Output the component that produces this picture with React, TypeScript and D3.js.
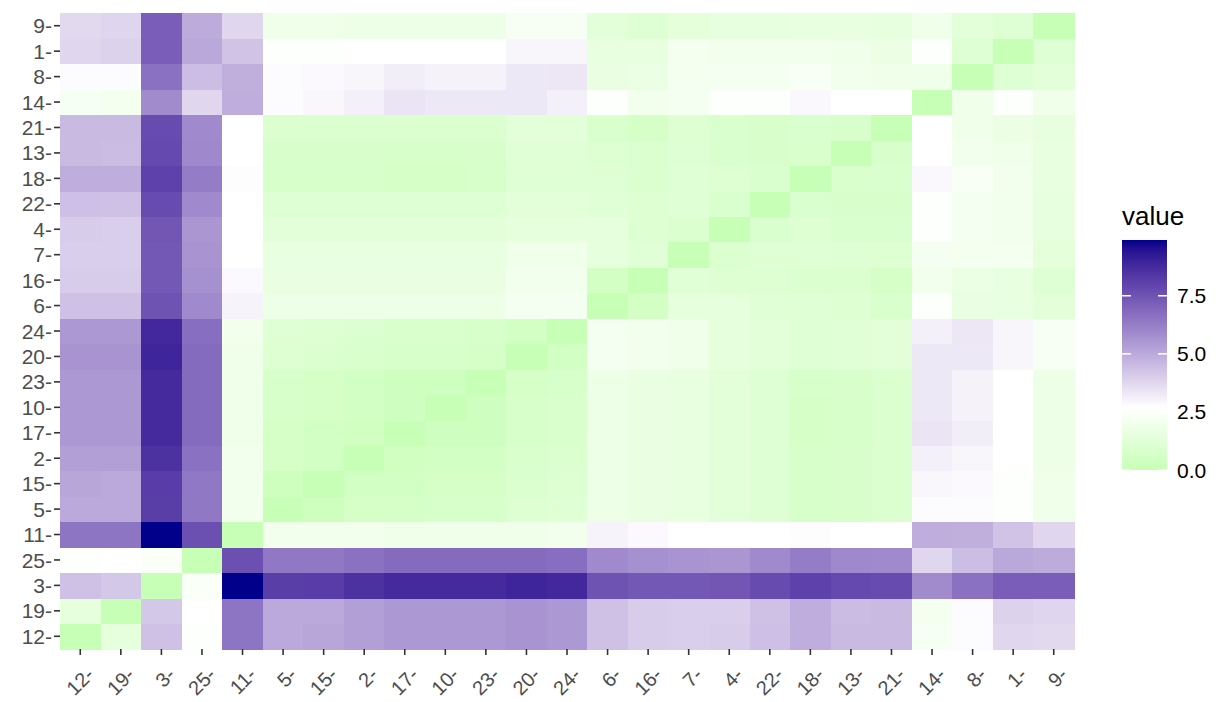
import React from 'react';
import * as d3 from 'd3';

// axis categories, same order on x (left -> right) and y (bottom -> top)
const labels = ['12', '19', '3', '25', '11', '5', '15', '2', '17', '10', '23', '20', '24', '6', '16', '7', '4', '22', '18', '13', '21', '14', '8', '1', '9'];

// one row per y label (same order as labels), one column per x label
const rows: number[][] = [
  [0, 1.45, 4.35, 2.6, 6.5, 5.0, 5.1, 5.3, 5.5, 5.5, 5.5, 5.6, 5.5, 4.35, 4.05, 4.0, 4.05, 4.4, 4.9, 4.55, 4.55, 2.25, 2.8, 3.75, 3.7],
  [1.45, 0, 4.15, 2.65, 6.5, 5.0, 5.0, 5.3, 5.5, 5.5, 5.5, 5.6, 5.5, 4.35, 4.05, 4.0, 4.0, 4.35, 4.9, 4.5, 4.55, 2.15, 2.8, 3.9, 3.8],
  [4.35, 4.15, 0, 2.45, 9.9, 8.15, 8.2, 8.55, 8.75, 8.75, 8.75, 8.9, 8.8, 7.5, 7.35, 7.35, 7.4, 7.75, 8.05, 7.8, 7.75, 5.85, 6.6, 7.2, 7.2],
  [2.6, 2.65, 2.45, 0, 7.6, 6.4, 6.4, 6.6, 6.8, 6.8, 6.8, 6.8, 6.7, 5.9, 5.7, 5.6, 5.55, 5.9, 6.3, 5.95, 5.9, 3.75, 4.45, 5.05, 4.95],
  [6.5, 6.5, 9.9, 7.6, 0, 2.05, 2.05, 2.05, 1.95, 1.95, 1.95, 1.95, 2.0, 3.0, 2.85, 2.7, 2.7, 2.7, 2.75, 2.7, 2.7, 4.9, 4.85, 4.3, 3.75],
  [5.0, 5.0, 8.15, 6.4, 2.05, 0, 0.35, 0.65, 0.65, 0.75, 0.75, 1.05, 1.15, 1.8, 1.65, 1.55, 1.3, 1.1, 0.75, 0.8, 0.95, 2.8, 2.8, 2.55, 1.9],
  [5.1, 5.0, 8.2, 6.4, 2.05, 0.35, 0, 0.55, 0.55, 0.65, 0.65, 0.95, 1.05, 1.8, 1.65, 1.55, 1.3, 1.1, 0.75, 0.8, 0.95, 2.9, 2.85, 2.6, 1.9],
  [5.3, 5.3, 8.55, 6.6, 2.05, 0.65, 0.55, 0, 0.45, 0.55, 0.55, 0.85, 0.95, 1.8, 1.65, 1.55, 1.3, 1.1, 0.75, 0.8, 0.95, 3.1, 2.95, 2.7, 1.8],
  [5.5, 5.5, 8.75, 6.8, 1.95, 0.65, 0.55, 0.45, 0, 0.4, 0.4, 0.75, 0.85, 1.8, 1.65, 1.55, 1.3, 1.1, 0.7, 0.75, 0.95, 3.4, 3.15, 2.7, 1.8],
  [5.5, 5.5, 8.75, 6.8, 1.95, 0.75, 0.65, 0.55, 0.4, 0, 0.4, 0.75, 0.85, 1.8, 1.65, 1.55, 1.3, 1.1, 0.7, 0.75, 0.95, 3.3, 3.05, 2.7, 1.8],
  [5.5, 5.5, 8.75, 6.8, 1.95, 0.75, 0.65, 0.55, 0.4, 0.4, 0, 0.65, 0.75, 1.8, 1.65, 1.55, 1.3, 1.1, 0.75, 0.8, 0.95, 3.3, 3.05, 2.7, 1.8],
  [5.6, 5.6, 8.9, 6.8, 1.95, 1.05, 0.95, 0.85, 0.75, 0.75, 0.65, 0, 0.55, 2.2, 2.05, 1.9, 1.45, 1.3, 1.15, 1.2, 1.3, 3.3, 3.3, 2.95, 2.3],
  [5.5, 5.5, 8.8, 6.7, 2.0, 1.15, 1.05, 0.95, 0.85, 0.85, 0.75, 0.55, 0, 2.2, 2.05, 1.9, 1.45, 1.3, 1.15, 1.2, 1.3, 3.1, 3.35, 2.95, 2.3],
  [4.35, 4.35, 7.5, 5.9, 3.0, 1.8, 1.8, 1.8, 1.8, 1.8, 1.8, 2.2, 2.2, 0, 0.6, 1.45, 1.45, 1.25, 1.15, 1.05, 0.85, 2.55, 1.65, 1.55, 1.3],
  [4.05, 4.05, 7.35, 5.7, 2.85, 1.65, 1.65, 1.65, 1.65, 1.65, 1.65, 2.05, 2.05, 0.6, 0, 1.25, 1.05, 1.05, 0.95, 0.95, 0.7, 2.05, 1.7, 1.55, 1.1],
  [4.0, 4.0, 7.35, 5.6, 2.7, 1.55, 1.55, 1.55, 1.55, 1.55, 1.55, 1.9, 1.9, 1.45, 1.25, 0, 1.0, 1.15, 1.15, 1.1, 1.05, 2.2, 2.15, 2.15, 1.4],
  [4.05, 4.0, 7.4, 5.55, 2.7, 1.3, 1.3, 1.3, 1.3, 1.3, 1.3, 1.45, 1.45, 1.45, 1.05, 1.0, 0, 0.9, 1.05, 0.9, 0.9, 2.55, 2.2, 2.05, 1.5],
  [4.4, 4.35, 7.75, 5.9, 2.7, 1.1, 1.1, 1.1, 1.1, 1.1, 1.1, 1.3, 1.3, 1.25, 1.05, 1.15, 0.9, 0, 0.9, 0.8, 0.8, 2.62, 2.2, 2.05, 1.5],
  [4.9, 4.9, 8.05, 6.3, 2.75, 0.75, 0.75, 0.75, 0.7, 0.7, 0.75, 1.15, 1.15, 1.15, 0.95, 1.15, 1.05, 0.9, 0, 0.85, 0.9, 2.88, 2.35, 2.0, 1.55],
  [4.55, 4.5, 7.8, 5.95, 2.7, 0.8, 0.8, 0.8, 0.75, 0.75, 0.8, 1.2, 1.2, 1.05, 0.95, 1.1, 0.9, 0.8, 0.85, 0, 0.8, 2.7, 2.05, 1.9, 1.55],
  [4.55, 4.55, 7.75, 5.9, 2.7, 0.95, 0.95, 0.95, 0.95, 0.95, 0.95, 1.3, 1.3, 0.85, 0.7, 1.05, 0.9, 0.8, 0.9, 0.8, 0, 2.7, 1.9, 1.75, 1.5],
  [2.25, 2.15, 5.85, 3.75, 4.9, 2.8, 2.9, 3.1, 3.4, 3.3, 3.3, 3.3, 3.1, 2.55, 2.05, 2.2, 2.55, 2.62, 2.88, 2.7, 2.7, 0, 1.9, 2.6, 1.9],
  [2.8, 2.8, 6.6, 4.45, 4.85, 2.8, 2.85, 2.95, 3.15, 3.05, 3.05, 3.3, 3.35, 1.65, 1.7, 2.15, 2.2, 2.2, 2.35, 2.05, 1.9, 1.9, 0, 1.1, 1.3],
  [3.75, 3.9, 7.2, 5.05, 4.3, 2.55, 2.6, 2.7, 2.7, 2.7, 2.7, 2.95, 2.95, 1.55, 1.55, 2.15, 2.05, 2.05, 2.0, 1.9, 1.75, 2.6, 1.1, 0, 1.1],
  [3.7, 3.8, 7.2, 4.95, 3.75, 1.9, 1.9, 1.8, 1.8, 1.8, 1.8, 2.3, 2.3, 1.3, 1.1, 1.4, 1.5, 1.5, 1.55, 1.55, 1.5, 1.9, 1.3, 1.1, 0],
];

const legendBreaks = [0, 2.5, 5, 7.5];
const midpoint = 2.7;

const FONT = "'Liberation Sans', Arial, Helvetica, sans-serif";

export default function App() {
  const panel = { left: 60, right: 1074, top: 13, bottom: 649 };

  const x = d3.scaleBand<string>().domain(labels).range([panel.left, panel.right]);
  const y = d3.scaleBand<string>().domain([...labels].reverse()).range([panel.top, panel.bottom]);

  const cells = rows.flatMap((row, i) => row.map((v, j) => ({ yl: labels[i], xl: labels[j], v })));
  const maxV = d3.max(cells, d => d.v) as number;
  const minV = d3.min(cells, d => d.v) as number;
  const span = maxV - midpoint;

  // like ggplot's gradient2: low / mid / high, symmetric around the midpoint
  const color = d3.scaleLinear<string>()
    .domain([midpoint - span, midpoint, maxV])
    .range(['#00ff00', '#ffffff', '#00008b'])
    .interpolate(d3.interpolateLab);

  // legend
  const bar = { x: 1122, w: 45, top: 240, bottom: 470 };
  const ly = d3.scaleLinear().domain([minV, maxV]).range([bar.bottom, bar.top]);
  const stops = d3.range(0, 41).map(k => minV + (maxV - minV) * k / 40);

  return (
    <svg width={1232} height={702} style={{ position: 'absolute', left: 0, top: 0, background: '#fff' }} fontFamily={FONT}>
      <defs>
        <linearGradient id="legendGrad" x1="0" y1="1" x2="0" y2="0">
          {stops.map((s, k) => (
            <stop key={k} offset={`${(k / 40) * 100}%`} stopColor={color(s)} />
          ))}
        </linearGradient>
      </defs>

      <g shapeRendering="crispEdges">
        {cells.map((c, k) => (
          <rect key={k} x={x(c.xl)} y={y(c.yl)} width={x.bandwidth() + 0.5} height={y.bandwidth() + 0.5} fill={color(c.v)} />
        ))}
      </g>

      {/* y axis */}
      {labels.map(l => {
        const cy = (y(l) as number) + y.bandwidth() / 2;
        return (
          <g key={'y' + l}>
            <line x1={panel.left - 6} x2={panel.left} y1={cy} y2={cy} stroke="#333" strokeWidth={1.6} />
            <text x={panel.left - 8} y={cy} dy="0.36em" textAnchor="end" fontSize={21} fill="#4d4d4d">{l + '-'}</text>
          </g>
        );
      })}

      {/* x axis */}
      {labels.map(l => {
        const cx = (x(l) as number) + x.bandwidth() / 2;
        const ax = cx + 15;
        const ay = 676;
        return (
          <g key={'x' + l}>
            <line x1={cx} x2={cx} y1={panel.bottom} y2={panel.bottom + 6} stroke="#333" strokeWidth={1.6} />
            <text x={ax} y={ay} textAnchor="end" fontSize={20} fill="#4d4d4d" transform={`rotate(-45, ${ax}, ${ay})`}>{l + '-'}</text>
          </g>
        );
      })}

      {/* legend */}
      <text x={bar.x} y={225} fontSize={26} fill="#000">value</text>
      <rect x={bar.x} y={bar.top} width={bar.w} height={bar.bottom - bar.top} fill="url(#legendGrad)" />
      {legendBreaks.map(b => (
        <g key={'b' + b}>
          <line x1={bar.x} x2={bar.x + 9} y1={ly(b)} y2={ly(b)} stroke="#fff" strokeWidth={1.5} />
          <line x1={bar.x + bar.w - 9} x2={bar.x + bar.w} y1={ly(b)} y2={ly(b)} stroke="#fff" strokeWidth={1.5} />
          <text x={bar.x + bar.w + 10} y={ly(b)} dy="0.36em" fontSize={21} fill="#000">{b.toFixed(1)}</text>
        </g>
      ))}
    </svg>
  );
}
